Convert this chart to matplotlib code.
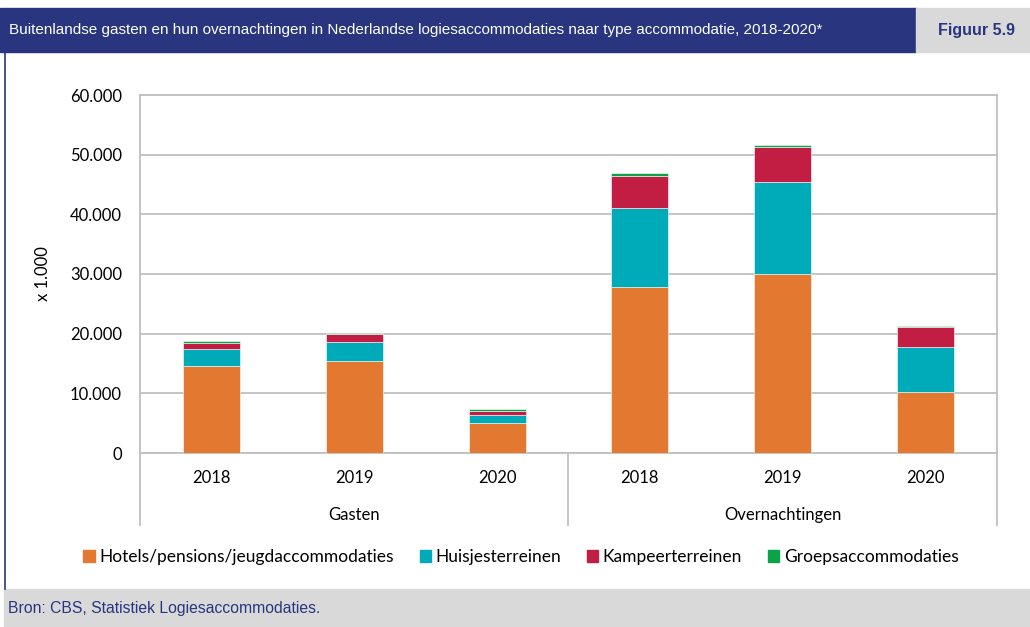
import matplotlib.pyplot as plt
from matplotlib.patches import Rectangle, Patch
from matplotlib.ticker import FuncFormatter

# Gegevens (x 1.000)
groepen = ["Gasten", "Overnachtingen"]
jaren = ["2018", "2019", "2020"]
hotels = [14570, 15410, 4970, 27800, 30030, 10170]
huisjes = [2850, 3230, 1450, 13240, 15310, 7590]
kampeer = [1010, 1240, 670, 5410, 5870, 3290]
groeps = [330, 170, 230, 500, 430, 270]

reeksen = [
    ("Hotels/pensions/jeugdaccommodaties", hotels, "#E37830"),
    ("Huisjesterreinen", huisjes, "#00ABB9"),
    ("Kampeerterreinen", kampeer, "#C21E43"),
    ("Groepsaccommodaties", groeps, "#0BA24A"),
]

BLAUW = "#29357F"
GRIJS = "#D9D9D9"
LIJN = "#BFBFBF"

smal = ["Liberation Sans", "DejaVu Sans"]
plt.rcParams["font.family"] = ["Lato", "DejaVu Sans"]

W, H = 1030, 627
fig = plt.figure(figsize=(W / 100, H / 100), dpi=100)


def fx(px):
    return px / W


def fy(py):
    return 1 - py / H


# kopbalk en voetbalk
fig.patches.append(Rectangle((0, fy(52)), fx(916), fy(8) - fy(52),
                             transform=fig.transFigure, color=BLAUW, zorder=0))
fig.patches.append(Rectangle((fx(916), fy(52)), 1 - fx(916), fy(8) - fy(52),
                             transform=fig.transFigure, color=GRIJS, zorder=0))
fig.patches.append(Rectangle((fx(4), 0), 1 - fx(4), fy(589),
                             transform=fig.transFigure, color=GRIJS, zorder=0))
fig.add_artist(plt.Line2D([fx(4.5), fx(4.5)], [fy(589), fy(52)],
                          transform=fig.transFigure, color=BLAUW, lw=1.2))

fig.text(fx(9), fy(30), "Buitenlandse gasten en hun overnachtingen in Nederlandse "
         "logiesaccommodaties naar type accommodatie, 2018-2020*",
         color="white", fontsize=11, family=smal, va="center", ha="left")
fig.text(fx(976), fy(30), "Figuur 5.9", color=BLAUW, fontsize=11.5,
         fontweight="bold", family=smal, va="center", ha="center")
fig.text(fx(8), fy(609), "Bron: CBS, Statistiek Logiesaccommodaties.",
         color=BLAUW, fontsize=11.3, family=smal, va="center", ha="left")

ax = fig.add_axes([fx(140), fy(453), fx(997) - fx(140), fy(95) - fy(453)])
x = list(range(len(hotels)))
onder = [0] * len(x)
for naam, waarden, kleur in reeksen:
    ax.bar(x, waarden, width=0.4, bottom=onder, color=kleur,
           edgecolor="white", linewidth=0.4, zorder=3)
    onder = [b + v for b, v in zip(onder, waarden)]

ax.set_xlim(-0.5, len(x) - 0.5)
ax.set_ylim(0, 60000)
ax.set_yticks(range(0, 60001, 10000))
ax.yaxis.set_major_formatter(FuncFormatter(lambda v, p: f"{int(v):,}".replace(",", ".")))
ax.tick_params(axis="y", length=0, pad=13, labelsize=12, colors="black")
ax.set_xticks([])
ax.grid(axis="y", color=LIJN, lw=1.3, zorder=0)
for s in ax.spines.values():
    s.set_color(LIJN)
    s.set_linewidth(1.3)
ax.set_ylabel("x 1.000", fontsize=12, labelpad=14)

# categorie-as met twee niveaus
trans = ax.get_xaxis_transform()
for i in x:
    ax.text(i, -0.07, jaren[i % 3], transform=trans, ha="center", va="center",
            fontsize=12)
for g, naam in enumerate(groepen):
    ax.text(g * 3 + 1, -0.173, naam, transform=trans, ha="center",
            va="center", fontsize=12)
for xs in [-0.5, 2.5, 5.5]:
    ax.plot([xs, xs], [0, -0.2], transform=trans, color=LIJN, lw=1.3,
            clip_on=False)

handles = [Patch(color=k, label=n) for n, _, k in reeksen]
fig.legend(handles=handles, loc="center", bbox_to_anchor=(fx(521), fy(557)),
           ncol=4, frameon=False, fontsize=12.5, handlelength=0.65,
           handleheight=0.7, handletextpad=0.25, columnspacing=1.5)

fig.savefig("out.png", dpi=100)
